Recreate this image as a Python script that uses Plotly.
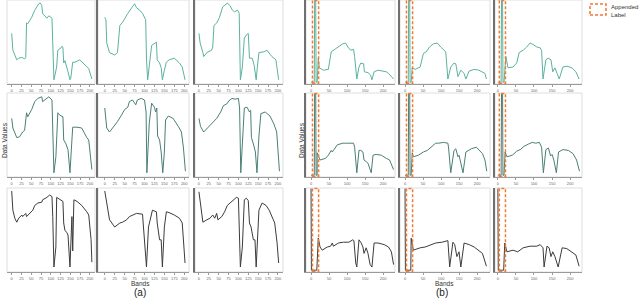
import plotly.graph_objects as go

# ---------------- data (band index, normalised value) ----------------
A_R1C1_BANDS = [0,3,13,18,26,33,36,38,41,51,59,64,69,73,77,79,90,95,103,105,108,115,118,126,129,131,133,136,141,144,149,151,156,162,174,182,192,197,205]
A_R1C1_VALS = [0.62,0.41,0.29,0.31,0.32,0.30,0.32,0.75,0.74,0.82,0.91,0.95,0.99,1.0,0.97,0.87,0.81,0.84,0.81,0.50,0.04,0.20,0.41,0.44,0.46,0.44,0.25,0.28,0.20,0.14,0.04,0.06,0.26,0.26,0.29,0.25,0.20,0.18,0.05]
A_R1C2_BANDS = [0,3,5,12,25,32,38,45,58,68,75,80,88,95,103,105,108,118,125,130,132,138,142,145,150,155,162,175,188,195,202]
A_R1C2_VALS = [0.82,0.79,0.50,0.38,0.35,0.38,0.72,0.76,0.87,0.95,0.99,0.94,0.91,0.87,0.79,0.30,0.04,0.47,0.50,0.51,0.29,0.25,0.19,0.04,0.16,0.26,0.29,0.31,0.25,0.20,0.04]
A_R1C3_BANDS = [0,3,10,12,20,32,35,38,45,52,60,65,72,78,85,90,98,102,105,110,115,120,125,128,135,140,145,148,152,165,172,185,195,202]
A_R1C3_VALS = [0.62,0.50,0.38,0.33,0.38,0.41,0.45,0.72,0.75,0.82,0.95,0.97,1.0,0.97,0.91,0.89,0.91,0.87,0.04,0.20,0.56,0.60,0.62,0.31,0.31,0.22,0.04,0.20,0.38,0.39,0.41,0.33,0.29,0.04]
A_R2C1_BANDS = [0,3,13,20,28,33,38,41,51,59,67,77,79,90,95,103,105,108,113,118,123,128,131,133,138,144,149,154,156,167,179,192,197,205]
A_R2C1_VALS = [0.72,0.60,0.48,0.49,0.55,0.57,0.79,0.74,0.83,0.93,0.97,0.99,0.93,0.97,0.99,0.95,0.66,0.04,0.24,0.79,0.76,0.74,0.74,0.45,0.41,0.33,0.04,0.45,0.61,0.61,0.60,0.48,0.45,0.08]
A_R2C2_BANDS = [0,3,5,12,20,32,42,50,58,62,70,78,82,92,100,104,106,112,118,125,128,131,133,138,142,146,150,153,160,172,185,193,198,203]
A_R2C2_VALS = [0.85,0.70,0.60,0.55,0.60,0.68,0.76,0.83,0.86,0.93,0.95,0.89,0.95,0.97,0.95,0.80,0.04,0.66,0.91,0.86,0.80,0.85,0.50,0.45,0.30,0.04,0.30,0.70,0.75,0.72,0.62,0.55,0.35,0.06]
A_R2C3_BANDS = [0,4,12,22,35,45,55,62,70,78,84,92,100,103,106,111,115,122,128,131,133,138,143,147,152,157,168,180,190,197,201,204]
A_R2C3_VALS = [0.72,0.62,0.55,0.60,0.66,0.72,0.80,0.88,0.90,0.95,0.97,0.96,0.97,0.85,0.04,0.50,0.85,0.86,0.80,0.82,0.48,0.40,0.30,0.04,0.50,0.78,0.80,0.75,0.65,0.55,0.30,0.06]
A_R3C1_BANDS = [0,3,8,13,18,26,28,36,38,46,54,59,67,77,79,90,97,103,105,108,113,115,121,126,131,133,136,141,144,149,154,156,159,167,179,192,197,203,205]
A_R3C1_VALS = [1.0,0.76,0.66,0.61,0.66,0.70,0.68,0.72,0.68,0.72,0.76,0.82,0.85,0.86,0.89,0.92,0.95,0.93,0.68,0.05,0.30,0.92,0.90,0.89,0.87,0.60,0.51,0.48,0.45,0.05,0.68,0.25,0.89,0.87,0.82,0.74,0.70,0.39,0.11]
A_R3C2_BANDS = [0,12,25,38,45,55,62,70,80,95,105,110,115,120,130,132,138,142,145,150,155,162,175,188,195,202]
A_R3C2_VALS = [1.0,0.64,0.55,0.60,0.61,0.64,0.68,0.70,0.72,0.71,0.05,0.55,0.64,0.76,0.74,0.60,0.39,0.39,0.05,0.55,0.74,0.73,0.70,0.66,0.60,0.10]
A_R3C3_BANDS = [0,3,8,10,20,28,35,40,45,48,58,65,72,82,90,95,100,105,110,115,120,125,128,132,138,142,145,152,160,170,178,185,192,198,202]
A_R3C3_VALS = [0.99,0.89,0.68,0.61,0.64,0.66,0.70,0.66,0.72,0.64,0.68,0.74,0.82,0.86,0.89,0.92,0.91,0.05,0.30,0.89,0.91,0.88,0.60,0.55,0.39,0.39,0.05,0.76,0.85,0.82,0.76,0.68,0.60,0.35,0.10]

# appended label part of panel (b)
LABEL_BANDS_R12 = [0, 9, 10, 13, 14, 17]
LABEL_VALS_R12 = [0.01, 0.01, 1.03, 1.03, 0.01, 0.01]
LABEL_BANDS_R3 = [0, 1, 16]
LABEL_VALS_R3 = [1.03, 0.01, 0.01]

B_R1C1_BANDS = [20,23,34,48,56,62,76,88,96,102,110,118,121,127,133,138,146,148,158,165,169,175,186,200,209,215,229]
B_R1C1_VALS = [0.31,0.19,0.16,0.17,0.39,0.41,0.45,0.49,0.50,0.45,0.41,0.42,0.33,0.05,0.20,0.25,0.24,0.14,0.13,0.10,0.04,0.14,0.16,0.15,0.14,0.12,0.05]
B_R1C2_BANDS = [20,28,42,51,59,68,79,90,99,107,113,119,127,136,141,147,155,164,169,178,192,205,215,222,226]
B_R1C2_VALS = [0.19,0.17,0.20,0.37,0.39,0.45,0.49,0.50,0.45,0.42,0.39,0.05,0.20,0.25,0.24,0.08,0.16,0.12,0.05,0.15,0.17,0.16,0.14,0.12,0.05]
B_R1C3_BANDS = [22,28,42,52,59,70,80,89,98,108,117,121,125,133,139,147,152,158,164,170,180,191,205,216,225]
B_R1C3_VALS = [0.33,0.19,0.20,0.25,0.38,0.41,0.45,0.50,0.48,0.45,0.44,0.41,0.05,0.29,0.31,0.29,0.14,0.19,0.12,0.05,0.20,0.21,0.19,0.14,0.05]
B_R2C1_BANDS = [17,25,40,48,56,59,73,88,96,105,118,121,127,133,138,144,147,153,158,167,172,181,195,209,218,229]
B_R2C1_VALS = [0.29,0.20,0.22,0.26,0.32,0.30,0.39,0.41,0.41,0.41,0.41,0.36,0.04,0.32,0.32,0.30,0.20,0.18,0.16,0.04,0.26,0.27,0.26,0.22,0.20,0.08]
B_R2C2_BANDS = [20,23,37,51,62,71,85,93,107,119,121,127,136,141,147,150,161,169,184,198,205,215,222,227]
B_R2C2_VALS = [0.29,0.24,0.26,0.30,0.32,0.36,0.41,0.41,0.42,0.41,0.35,0.04,0.32,0.34,0.24,0.26,0.04,0.30,0.34,0.36,0.33,0.28,0.20,0.06]
B_R2C3_BANDS = [20,25,40,52,62,72,85,95,105,115,121,126,133,140,146,150,155,162,168,180,195,208,218,226]
B_R2C3_VALS = [0.30,0.24,0.26,0.31,0.33,0.37,0.40,0.42,0.41,0.42,0.36,0.04,0.33,0.35,0.25,0.27,0.20,0.04,0.30,0.33,0.32,0.28,0.20,0.06]
B_R3C1_BANDS = [18,20,25,31,45,54,59,62,76,90,105,116,119,124,127,133,138,144,147,153,158,164,169,175,186,203,215,223,229]
B_R3C1_VALS = [0.41,0.41,0.30,0.26,0.30,0.31,0.35,0.31,0.35,0.36,0.36,0.39,0.38,0.10,0.05,0.39,0.36,0.30,0.22,0.29,0.22,0.08,0.05,0.35,0.35,0.33,0.30,0.24,0.08]
B_R3C2_BANDS = [17,23,42,56,71,85,103,119,124,133,138,144,150,155,164,178,192,203,215,226]
B_R3C2_VALS = [0.41,0.26,0.29,0.30,0.33,0.35,0.36,0.38,0.05,0.36,0.33,0.18,0.24,0.05,0.35,0.33,0.30,0.26,0.22,0.06]
B_R3C3_BANDS = [19,25,42,55,61,70,89,108,117,125,128,136,142,147,152,158,167,178,191,205,216,225]
B_R3C3_VALS = [0.35,0.24,0.26,0.24,0.26,0.29,0.31,0.31,0.33,0.29,0.05,0.31,0.29,0.18,0.24,0.18,0.05,0.29,0.28,0.24,0.20,0.06]

A_TICKS = [0, 25, 50, 75, 100, 125, 150, 175, 200]
B_TICKS = [0, 50, 100, 150, 200]
ROW_COLORS = ["#5db29f", "#4a7f76", "#3c3c3c"]

A_DATA = [[(A_R1C1_BANDS, A_R1C1_VALS), (A_R1C2_BANDS, A_R1C2_VALS), (A_R1C3_BANDS, A_R1C3_VALS)],
          [(A_R2C1_BANDS, A_R2C1_VALS), (A_R2C2_BANDS, A_R2C2_VALS), (A_R2C3_BANDS, A_R2C3_VALS)],
          [(A_R3C1_BANDS, A_R3C1_VALS), (A_R3C2_BANDS, A_R3C2_VALS), (A_R3C3_BANDS, A_R3C3_VALS)]]
B_DATA = [[(B_R1C1_BANDS, B_R1C1_VALS), (B_R1C2_BANDS, B_R1C2_VALS), (B_R1C3_BANDS, B_R1C3_VALS)],
          [(B_R2C1_BANDS, B_R2C1_VALS), (B_R2C2_BANDS, B_R2C2_VALS), (B_R2C3_BANDS, B_R2C3_VALS)],
          [(B_R3C1_BANDS, B_R3C1_VALS), (B_R3C2_BANDS, B_R3C2_VALS), (B_R3C3_BANDS, B_R3C3_VALS)]]

# ---------------- layout geometry (pixels) ----------------
W, H = 640, 299
ROWS_PX = [(0, 84), (93, 177), (188, 272)]
A_COLS = [(7, 95, [-12, 213]), (98, 189, [-17, 212]), (195, 283, [-10, 213])]
B_COLS = [(306, 395, [-14, 233]), (400, 490, [-14, 236]), (495, 582, [-8, 233])]
YRANGE = [-0.0125, 1.0375]
FONT = "Liberation Sans, Arial, sans-serif"

fig = go.Figure()
layout = {}
shapes = []
k = 0
for panel, cols, data, ticks in (("a", A_COLS, A_DATA, A_TICKS), ("b", B_COLS, B_DATA, B_TICKS)):
    for r, (ytop, ybot) in enumerate(ROWS_PX):
        for c, (x0, x1, xr) in enumerate(cols):
            k += 1
            xa = "x" if k == 1 else f"x{k}"
            ya = "y" if k == 1 else f"y{k}"
            xkey = "xaxis" if k == 1 else f"xaxis{k}"
            ykey = "yaxis" if k == 1 else f"yaxis{k}"
            layout[xkey] = dict(domain=[x0 / W, x1 / W], range=xr, anchor=ya,
                                showline=True, linecolor="#9a9a9a", linewidth=1,
                                ticks="outside", ticklen=2, tickwidth=0.8, tickcolor="#9a9a9a",
                                tickvals=ticks, ticktext=[str(t) for t in ticks], tickangle=0,
                                tickfont=dict(size=4, color="#666666", family=FONT),
                                showgrid=False, zeroline=False, fixedrange=True)
            layout[ykey] = dict(domain=[1 - ybot / H, 1 - ytop / H], range=YRANGE, anchor=xa,
                                showline=not (panel == "a" and c == 0), linecolor="#707070", linewidth=2,
                                showticklabels=False, ticks="", showgrid=False, zeroline=False,
                                fixedrange=True)
            # light frame
            shapes.append(dict(type="rect", xref=f"{xa} domain", yref=f"{ya} domain",
                               x0=0, x1=1, y0=0, y1=1, layer="below",
                               line=dict(color="#dedede", width=1)))
            bands, vals = data[r][c]
            if panel == "b":
                if r < 2:
                    bands = LABEL_BANDS_R12 + bands
                    vals = LABEL_VALS_R12 + vals
                else:
                    bands = LABEL_BANDS_R3 + bands
                    vals = LABEL_VALS_R3 + vals
                shapes.append(dict(type="rect", xref=xa, yref=f"{ya} domain",
                                   x0=4, x1=21, y0=0.01, y1=0.995,
                                   line=dict(color="#f07b35", width=1.5, dash="3px,2px")))
            fig.add_trace(go.Scatter(x=bands, y=vals, mode="lines", xaxis=xa, yaxis=ya,
                                     line=dict(color=ROW_COLORS[r], width=1),
                                     showlegend=False, hoverinfo="skip"))

# legend box
shapes.append(dict(type="rect", xref="paper", yref="paper",
                   x0=590 / W, x1=606 / W, y0=1 - 15 / H, y1=1 - 4 / H,
                   line=dict(color="#f07b35", width=1.5, dash="3px,2px")))

annotations = [
    dict(text="Appended", x=609 / W, y=1 - 7 / H, xref="paper", yref="paper",
         xanchor="left", yanchor="middle", showarrow=False, font=dict(size=6, color="#333", family=FONT)),
    dict(text="Label", x=609 / W, y=1 - 15 / H, xref="paper", yref="paper",
         xanchor="left", yanchor="middle", showarrow=False, font=dict(size=6, color="#333", family=FONT)),
    dict(text="Bands", x=140 / W, y=1 - 283 / H, xref="paper", yref="paper",
         xanchor="center", yanchor="middle", showarrow=False, font=dict(size=6.5, color="#333", family=FONT)),
    dict(text="Bands", x=444 / W, y=1 - 283 / H, xref="paper", yref="paper",
         xanchor="center", yanchor="middle", showarrow=False, font=dict(size=6.5, color="#333", family=FONT)),
    dict(text="(a)", x=140 / W, y=1 - 292 / H, xref="paper", yref="paper",
         xanchor="center", yanchor="middle", showarrow=False, font=dict(size=10, color="#222", family=FONT)),
    dict(text="(b)", x=442 / W, y=1 - 292 / H, xref="paper", yref="paper",
         xanchor="center", yanchor="middle", showarrow=False, font=dict(size=10, color="#222", family=FONT)),
    dict(text="Data Values", x=4 / W, y=1 - 140 / H, xref="paper", yref="paper", textangle=-90,
         xanchor="center", yanchor="middle", showarrow=False, font=dict(size=6.5, color="#333", family=FONT)),
    dict(text="Data Values", x=301 / W, y=1 - 140 / H, xref="paper", yref="paper", textangle=-90,
         xanchor="center", yanchor="middle", showarrow=False, font=dict(size=6.5, color="#333", family=FONT)),
]

fig.update_layout(**layout)
fig.update_layout(width=W, height=H, margin=dict(l=0, r=0, t=0, b=0),
                  paper_bgcolor="white", plot_bgcolor="white",
                  shapes=shapes, annotations=annotations, showlegend=False,
                  font=dict(family=FONT))
fig.write_html("out.html", include_plotlyjs=True, config={"displayModeBar": False},
               post_script="document.body.style.margin='0px';document.body.style.padding='0px';")
